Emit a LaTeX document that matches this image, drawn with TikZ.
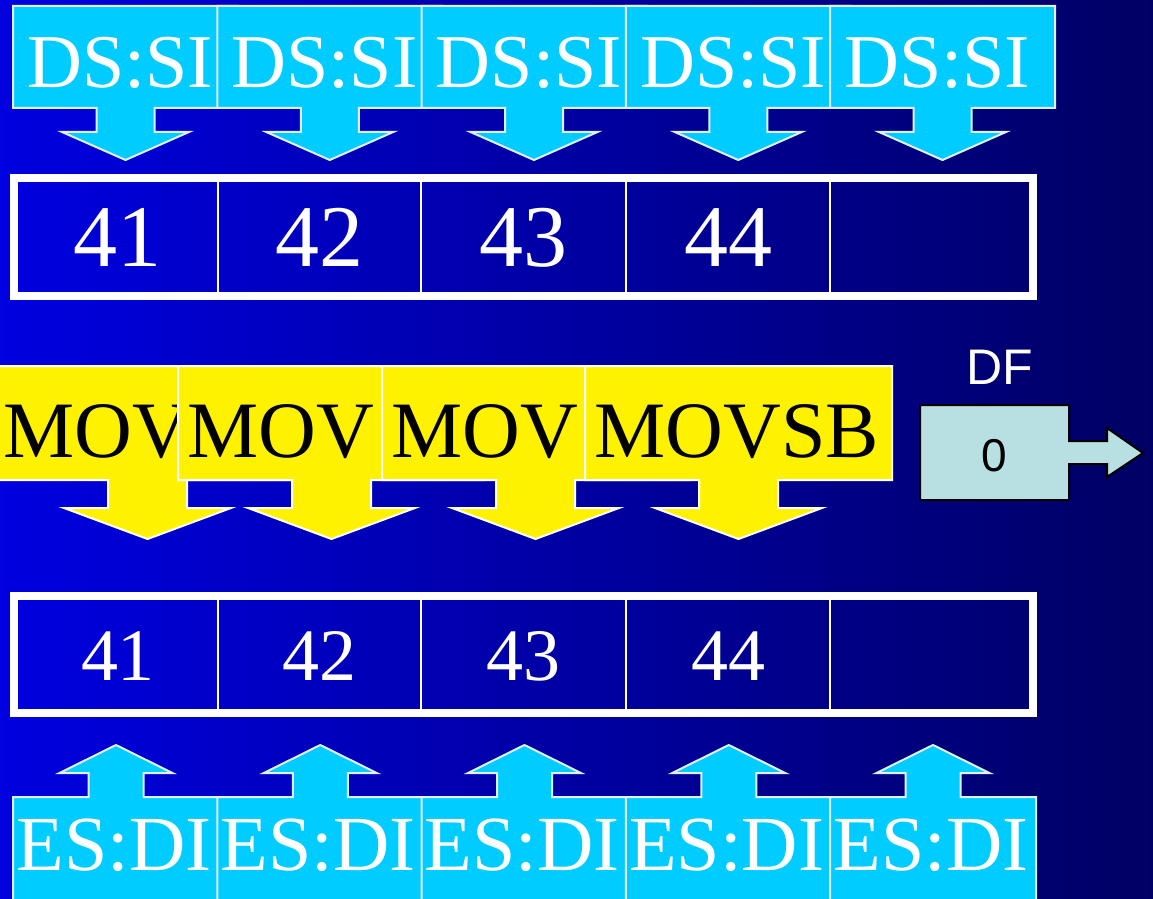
\documentclass[tikz,border=0pt]{standalone}
\usepackage{fontspec}
\setmainfont{Liberation Serif}
\newfontfamily\arialf{Liberation Sans}
\definecolor{bgL}{RGB}{0,0,224}
\definecolor{bgR}{RGB}{0,0,100}
\definecolor{cyanbox}{RGB}{0,204,255}
\definecolor{edgewhite}{RGB}{225,240,255}
\definecolor{dfbox}{RGB}{184,224,226}
\begin{document}
\begin{tikzpicture}[x=0.5pt,y=-0.5pt,
  srcbox/.style={fill=cyanbox,draw=edgewhite,line width=1pt,line join=miter},
  movbox/.style={fill=yellow,draw=white,line width=1pt,line join=miter},
  srctext/.style={font=\fontsize{38}{38}\selectfont,text=white,anchor=base west,inner sep=0pt},
  dsttext/.style={font=\fontsize{39}{39}\selectfont,text=white,anchor=base west,inner sep=0pt},
  movtext/.style={font=\fontsize{40}{40}\selectfont,text=black,anchor=base west,inner sep=0pt},
  regframe/.style={draw=white,line width=4pt},
  regdiv/.style={draw=white,line width=1pt},
  bignum/.style={font=\fontsize{44}{44}\selectfont,text=white,anchor=base,inner sep=0pt},
  smallnum/.style={font=\fontsize{37}{37}\selectfont,text=white,anchor=base,inner sep=0pt},
  dfshape/.style={fill=dfbox,draw=black,line width=1pt,line join=miter},
  dflabel/.style={font=\arialf\fontsize{25}{25}\selectfont,text=white,anchor=base,inner sep=0pt},
  dfval/.style={font=\arialf\fontsize{23}{23}\selectfont,text=black,anchor=base,inner sep=0pt}
]
\useasboundingbox (0,0) rectangle (1153,899);
\clip (0,0) rectangle (1153,899);
\fill[left color=bgL,right color=bgR] (0,0) rectangle (1153,899);

% ---- DS:SI source callouts ----
\foreach \i in {0,...,4} {
  \pgfmathsetmacro\L{13+204.25*\i}
  \pgfmathsetmacro\R{\L+225}
  \pgfmathsetmacro\c{\L+112.5}
  \draw[srcbox] (\L,6) -- (\R,6) -- (\R,108) -- (\c+29,108) -- (\c+29,132)
    -- (\c+63.5,132) -- (\c,160) -- (\c-63.5,132) -- (\c-29,132) -- (\c-29,108)
    -- (\L,108) -- cycle;
  \node[srctext] (ds\i) at (\L+14,88) {DS:SI};
}

% ---- top register ----
\draw[regframe] (14,178.5) rectangle (1032.5,296.5);
\foreach \x in {218,421,626,830} \draw[regdiv] (\x,178.5) -- (\x,296.5);
\foreach \x/\v [count=\k] in {118/41,319.5/42,523.5/43,728/44}
  \node[bignum] (top\k) at (\x,267) {\v};

% ---- MOV callouts ----
\foreach \L/\t [count=\k] in {-6/MOV,178/MOV,382/MOV,585/MOVSB} {
  \pgfmathsetmacro\R{\L+307}
  \pgfmathsetmacro\c{\L+153.5}
  \draw[movbox] (\L,366) -- (\R,366) -- (\R,480) -- (\c+39.5,480) -- (\c+39.5,508)
    -- (\c+83.5,508) -- (\c,539) -- (\c-83.5,508) -- (\c-39.5,508) -- (\c-39.5,480)
    -- (\L,480) -- cycle;
  \node[movtext] (mov\k) at (\L+9,457) {\t};
}

% ---- DF flag ----
\draw[dfshape] (920,405) -- (1069,405) -- (1069,441) -- (1107,441) -- (1107,428)
  -- (1143,453) -- (1107,477) -- (1107,464) -- (1069,464) -- (1069,500)
  -- (920,500) -- cycle;
\node[dflabel] (df) at (1000,385) {DF};
\node[dfval] (dfv) at (994,471) {0};

% ---- bottom register ----
\draw[regframe] (14,595.5) rectangle (1032.5,713);
\foreach \x in {218,421,626,830} \draw[regdiv] (\x,595.5) -- (\x,713);
\foreach \x/\v [count=\k] in {118/41,319.5/42,523.5/43,728/44}
  \node[smallnum] (bot\k) at (\x,680) {\v};

% ---- ES:DI destination callouts ----
\foreach \i in {0,...,4} {
  \pgfmathsetmacro\L{13+204.25*\i}
  \pgfmathsetmacro\R{\L+206}
  \pgfmathsetmacro\c{\L+103}
  \draw[srcbox] (\L,905) -- (\L,797) -- (\c-27.5,797) -- (\c-27.5,773) -- (\c-56.5,773)
    -- (\c,745) -- (\c+56.5,773) -- (\c+27.5,773) -- (\c+27.5,797) -- (\R,797)
    -- (\R,905) -- cycle;
  \node[dsttext] (es\i) at (\L+3,870) {ES:DI};
}
\end{tikzpicture}
\end{document}
